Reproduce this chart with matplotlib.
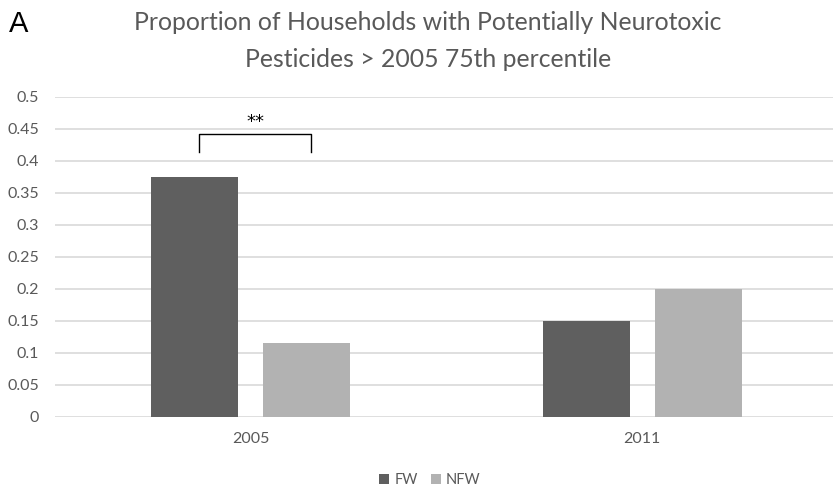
import matplotlib.pyplot as plt
import numpy as np

plt.rcParams['font.family'] = ['Lato', 'DejaVu Sans']

years = ['2005', '2011']
fw = [0.375, 0.15]
nfw = [0.115, 0.2]
yticks = [0, 0.05, 0.1, 0.15, 0.2, 0.25, 0.3, 0.35, 0.4, 0.45, 0.5]
ytick_labels = ['0', '0.05', '0.1', '0.15', '0.2', '0.25', '0.3', '0.35', '0.4', '0.45', '0.5']

fig = plt.figure(figsize=(8.33, 4.91), dpi=100)
ax = fig.add_axes([0.066, 0.151, 0.94, 0.652])

x = np.arange(len(years))
w = 0.222
off = 0.143
ax.bar(x - off, fw, w, color='#5f5f5f', label='FW', zorder=3)
ax.bar(x + off, nfw, w, color='#b2b2b2', label='NFW', zorder=3)

ax.set_xlim(-0.5, 1.5)
ax.set_ylim(0, 0.5)
ax.set_yticks(yticks)
ax.set_yticklabels(ytick_labels)
ax.set_xticks(x)
ax.set_xticklabels(years)
ax.grid(axis='y', color='#d9d9d9', linewidth=1.2, zorder=0)
for s in ax.spines.values():
    s.set_visible(False)
ax.tick_params(length=0, colors='#595959', labelsize=11.5)
ax.tick_params(axis='y', pad=11.5)
ax.tick_params(axis='x', pad=11)

# significance bracket over the 2005 pair
bx0, bx1 = x[0] - off + 0.012, x[0] + off + 0.012
ax.plot([bx0, bx0, bx1, bx1], [0.414, 0.442, 0.442, 0.414], color='black', lw=1, zorder=4)
ax.text((bx0 + bx1) / 2, 0.461, '**', ha='center', va='center', fontsize=13,
        family=['DejaVu Sans'])

fig.text(0.514, 0.955, 'Proportion of Households with Potentially Neurotoxic',
         ha='center', va='center', fontsize=17.8, color='#595959')
fig.text(0.514, 0.878, 'Pesticides > 2005 75th percentile',
         ha='center', va='center', fontsize=17.8, color='#595959')
fig.text(0.011, 0.935, 'A', ha='left', va='baseline', fontsize=21,
         family=['Liberation Sans', 'DejaVu Sans'])

fig.legend(loc='center', bbox_to_anchor=(0.516, 0.022), ncol=2, frameon=False,
           fontsize=10.5, labelcolor='#595959', handlelength=0.7, handleheight=0.7,
           handletextpad=0.35, columnspacing=0.9, borderpad=0)

fig.savefig('out.png', dpi=100)
